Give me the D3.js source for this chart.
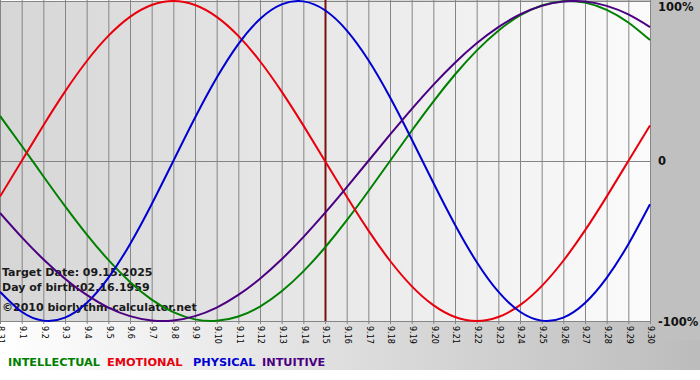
<!DOCTYPE html>
<html><head><meta charset="utf-8">
<script src="https://cdn.jsdelivr.net/npm/d3@7"></script>
<style>html,body{margin:0;padding:0;background:#fff;}svg{display:block;}</style>
</head><body>
<script>
const dayLabels = ["8.31","9.1","9.2","9.3","9.4","9.5","9.6","9.7","9.8","9.9","9.10","9.11","9.12","9.13","9.14","9.15","9.16","9.17","9.18","9.19","9.20","9.21","9.22","9.23","9.24","9.25","9.26","9.27","9.28","9.29","9.30"];
const intellectual = [0.2817,0.0951,-0.0951,-0.2817,-0.4582,-0.6182,-0.7557,-0.8660,-0.9450,-0.9898,-0.9989,-0.9718,-0.9096,-0.8146,-0.6901,-0.5406,-0.3717,-0.1893,0,0.1893,0.3717,0.5406,0.6901,0.8146,0.9096,0.9718,0.9989,0.9898,0.9450,0.8660,0.7557];
const emotional = [-0.2225,0,0.2225,0.4339,0.6235,0.7818,0.9010,0.9749,1,0.9749,0.9010,0.7818,0.6235,0.4339,0.2225,0,-0.2225,-0.4339,-0.6235,-0.7818,-0.9010,-0.9749,-1,-0.9749,-0.9010,-0.7818,-0.6235,-0.4339,-0.2225,0,0.2225];
const physical = [-0.8170,-0.9423,-0.9977,-0.9791,-0.8879,-0.7308,-0.5196,-0.2698,0,0.2698,0.5196,0.7308,0.8879,0.9791,0.9977,0.9423,0.8170,0.6311,0.3984,0.1362,-0.1362,-0.3984,-0.6311,-0.8170,-0.9423,-0.9977,-0.9791,-0.8879,-0.7308,-0.5196,-0.2698];
const intuitive = [-0.3247,-0.4759,-0.6142,-0.7357,-0.8372,-0.9158,-0.9694,-0.9966,-0.9966,-0.9694,-0.9158,-0.8372,-0.7357,-0.6142,-0.4759,-0.3247,-0.1646,0,0.1646,0.3247,0.4759,0.6142,0.7357,0.8372,0.9158,0.9694,0.9966,0.9966,0.9694,0.9158,0.8372];
const seriesNames = ["INTELLECTUAL","EMOTIONAL","PHYSICAL","INTUITIVE"];
const seriesColors = ["#008000","#e8000c","#0000d0","#4b0082"];
const yTickLabels = ["100%","0","-100%"];
const yTickValues = [1,0,-1];
const targetIndex = 15;
const infoLines = ["Target Date: 09.15.2025","Day of birth:02.16.1959","\u00A92010 biorlythm-calculator.net"];

const W = 700, H = 380;
const svg = d3.select("body").append("svg").attr("width", W).attr("height", H);
const defs = svg.append("defs");
const g1 = defs.append("linearGradient").attr("id","bg").attr("x1","0").attr("x2","1").attr("y1","0").attr("y2","0");
g1.append("stop").attr("offset","0").attr("stop-color","#ffffff");
g1.append("stop").attr("offset","1").attr("stop-color","#bcbcbc");
const g2 = defs.append("linearGradient").attr("id","plotbg").attr("x1","0").attr("x2","1").attr("y1","0").attr("y2","0");
g2.append("stop").attr("offset","0").attr("stop-color","#d6d6d6");
g2.append("stop").attr("offset","1").attr("stop-color","#fbfbfb");

const x = d3.scaleLinear().domain([0, dayLabels.length - 1]).range([0, 650]);
const y = d3.scaleLinear().domain([-1, 1]).range([321, 1]);

svg.append("rect").attr("x",0).attr("y",0).attr("width",W).attr("height",370).attr("fill","url(#bg)");
svg.append("rect").attr("x",651).attr("y",0).attr("width",49).attr("height",340).attr("fill","#c0c0c0");
svg.append("rect").attr("x",0).attr("y",y(1)).attr("width",x(30)).attr("height",y(-1)-y(1)).attr("fill","url(#plotbg)");

// vertical grid + ticks
svg.append("g").selectAll("line").data(d3.range(dayLabels.length)).join("line")
  .attr("x1", d => x(d) + 0.5).attr("x2", d => x(d) + 0.5)
  .attr("y1", 0).attr("y2", y(-1) + 3)
  .attr("stroke", "#858585").attr("stroke-width", 1);
// horizontal lines
svg.append("g").selectAll("line").data(yTickValues).join("line")
  .attr("x1", 0).attr("x2", x(30) + 1)
  .attr("y1", d => Math.round(y(d)) + 0.5).attr("y2", d => Math.round(y(d)) + 0.5)
  .attr("stroke", "#858585").attr("stroke-width", 1);

// target line
svg.append("line").attr("x1", x(targetIndex) + 0.5).attr("x2", x(targetIndex) + 0.5)
  .attr("y1", 0).attr("y2", y(-1)).attr("stroke", "#7a1010").attr("stroke-width", 2);

// x labels via axis
const axis = d3.axisBottom(x).tickValues(d3.range(dayLabels.length)).tickFormat(i => dayLabels[i]).tickSize(0);
const ax = svg.append("g").attr("transform", `translate(0.5,${y(-1)+5})`).call(axis);
ax.select(".domain").remove();
ax.selectAll("text").attr("transform","rotate(90)").attr("text-anchor","start")
  .attr("x", 0).attr("y", 0).attr("dy", "0.33em")
  .style("font-family","DejaVu Sans, Verdana, sans-serif").style("font-size","8px").attr("fill","#000");

// info text
svg.append("g").selectAll("text").data(infoLines).join("text")
  .attr("x", 2).attr("y", (d,i) => [276, 291, 311][i])
  .text(d => d)
  .style("font-family","DejaVu Sans, Verdana, sans-serif").style("font-weight","bold").style("font-size","11px")
  .attr("fill","#1a1a1a");

// curves
const line = d3.line().x((d,i) => x(i)).y(d => y(d)).curve(d3.curveNatural);
const allSeries = [intellectual, emotional, physical, intuitive];
svg.append("g").selectAll("path").data(allSeries).join("path")
  .attr("d", d => line(d)).attr("fill","none")
  .attr("stroke", (d,i) => seriesColors[i]).attr("stroke-width", 2);

// y labels
svg.append("g").selectAll("text").data(yTickValues).join("text")
  .attr("x", (d,i) => i === 2 ? 658 : 658).attr("y", (d,i) => [11, 165, 326][i])
  .text((d,i) => yTickLabels[i])
  .style("font-family","DejaVu Sans, Verdana, sans-serif").style("font-weight","bold").style("font-size","11.5px")
  .attr("fill","#111");

// legend
const legX = [8, 107, 193, 262];
svg.append("g").selectAll("text").data(seriesNames).join("text")
  .attr("x", (d,i) => legX[i]).attr("y", 366).text(d => d)
  .attr("fill", (d,i) => seriesColors[i])
  .style("font-family","DejaVu Sans, Verdana, sans-serif").style("font-weight","bold").style("font-size","11.3px");
</script>
</body></html>
